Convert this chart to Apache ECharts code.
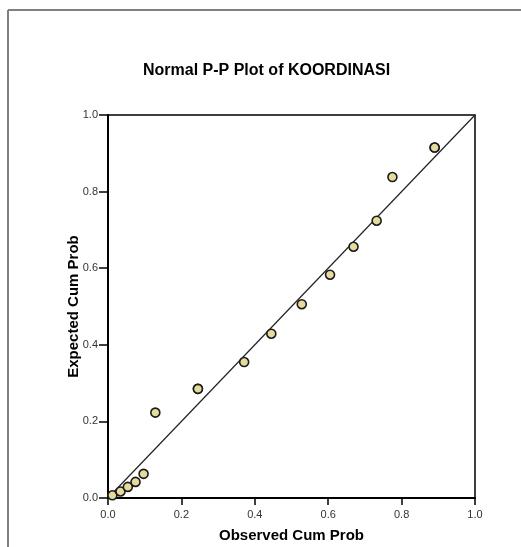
<!DOCTYPE html>
<html>
<head>
<meta charset="utf-8">
<script src="https://cdn.jsdelivr.net/npm/echarts@6/dist/echarts.min.js"></script>
<style>html,body{margin:0;padding:0;background:#fff}#c{width:521px;height:547px}</style>
</head>
<body>
<div id="c"></div>
<script>
var observed = [0.012, 0.034, 0.054, 0.075, 0.097, 0.129, 0.245, 0.245, 0.371, 0.445, 0.528, 0.605, 0.669, 0.732, 0.775, 0.890, 0.890];
var expected = [0.007, 0.017, 0.029, 0.042, 0.063, 0.223, 0.285, 0.285, 0.355, 0.429, 0.506, 0.583, 0.656, 0.724, 0.838, 0.915, 0.915];
var refLine = [[0, 0], [1, 1]];

var points = observed.map(function (v, i) { return [v, expected[i]]; });
var font = '"Liberation Sans", Arial, sans-serif';
var chart = echarts.init(document.getElementById('c'), null, {renderer: 'canvas'});
chart.setOption({
  animation: false,
  backgroundColor: '#fff',
  title: {
    text: 'Normal P-P Plot of KOORDINASI',
    left: 138, top: 58,
    textStyle: {fontFamily: font, fontSize: 16, fontWeight: 'bold', color: '#000'}
  },
  graphic: [
    {type: 'line', shape: {x1: 8, y1: 10, x2: 521, y2: 10}, style: {stroke: '#808080', lineWidth: 2}},
    {type: 'line', shape: {x1: 8, y1: 10, x2: 8, y2: 547}, style: {stroke: '#808080', lineWidth: 2}}
  ],
  grid: {left: 108, right: 46, top: 115, bottom: 49, outerBoundsMode: 'none', containLabel: false, show: true, borderColor: '#000', borderWidth: 1.5, backgroundColor: 'transparent'},
  xAxis: {
    type: 'value', min: 0, max: 1, interval: 0.2,
    name: 'Observed Cum Prob', nameLocation: 'middle', nameGap: 30, nameMoveOverlap: false,
    nameTextStyle: {fontFamily: font, fontSize: 15, fontWeight: 'bold', color: '#000'},
    axisLine: {show: true, lineStyle: {color: '#000', width: 2}},
    axisTick: {show: true, inside: false, length: 7, lineStyle: {color: '#000', width: 1.5}},
    axisLabel: {margin: 11, fontFamily: font, fontSize: 11, color: '#333', formatter: function (v) { return v.toFixed(1); }},
    splitLine: {show: false}
  },
  yAxis: {
    type: 'value', min: 0, max: 1, interval: 0.2,
    name: 'Expected Cum Prob', nameLocation: 'middle', nameGap: 27, nameMoveOverlap: false,
    nameTextStyle: {fontFamily: font, fontSize: 15, fontWeight: 'bold', color: '#000'},
    axisLine: {show: true, lineStyle: {color: '#000', width: 2}},
    axisTick: {show: true, inside: false, length: 9, lineStyle: {color: '#000', width: 1.5}},
    axisLabel: {margin: 10, fontFamily: font, fontSize: 11, color: '#333', formatter: function (v) { return v.toFixed(1); }},
    splitLine: {show: false}
  },
  series: [
    {
      type: 'line', data: refLine, symbol: 'none', silent: true,
      lineStyle: {color: '#222', width: 1.2}, z: 1
    },
    {
      type: 'scatter', data: points, symbol: 'circle', symbolSize: 9,
      itemStyle: {color: '#e4db9d', borderColor: '#1a1a1a', borderWidth: 1.6, opacity: 1}, z: 2
    }
  ]
});
</script>
</body>
</html>
